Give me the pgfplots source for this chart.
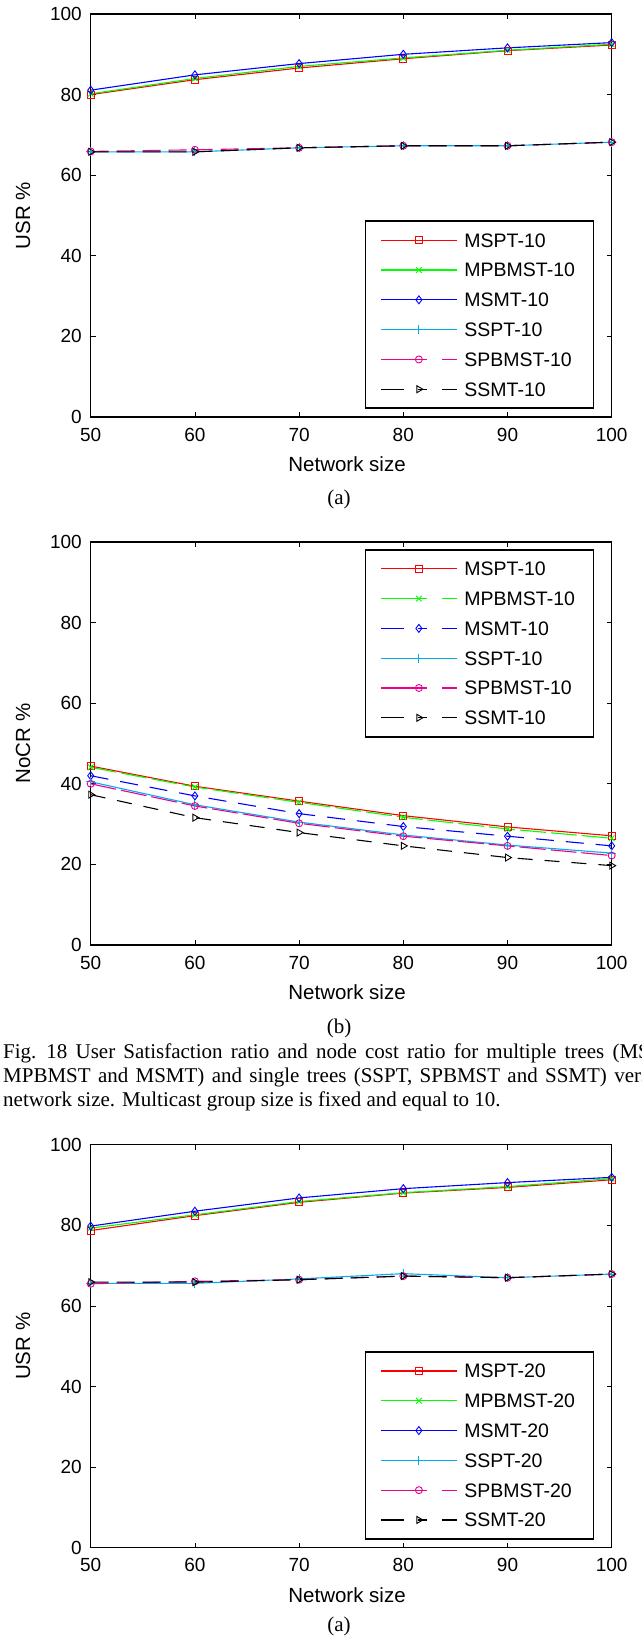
\documentclass[border=0pt]{standalone}
\usepackage{fontspec}
\setmainfont{Liberation Sans}
\newfontfamily\capfont{Liberation Serif}
\usepackage{pgfplots}
\usepackage{pgfplotstable}
\pgfplotsset{compat=1.18}

\newcommand\tickfont{\fontsize{19bp}{19bp}\selectfont}
\newcommand\labfont{\fontsize{20.5bp}{20.5bp}\selectfont}
\newcommand\legfont{\fontsize{19.5bp}{19.5bp}\selectfont}
\newcommand\LE[1]{\makebox[114bp][l]{\rule{0pt}{13.8bp}#1}}

\pgfplotstableread{
x   mspt mpbmst msmt sspt spbmst ssmt
50  80.0 80.2   81.1 65.8 65.9   65.8
60  83.7 84.0   84.9 65.8 66.3   65.8
70  86.6 87.0   87.7 66.8 66.8   66.8
80  88.9 89.1   90.0 67.3 67.3   67.3
90  90.9 91.0   91.6 67.3 67.3   67.3
100 92.3 92.5   92.9 68.2 68.2   68.2
}\usrA

\pgfplotstableread{
x   mspt mpbmst msmt sspt spbmst ssmt
50  44.4 44.1   42.0 40.5 40.0   37.3
60  39.4 39.2   37.0 34.8 34.5   31.6
70  35.7 35.4   32.6 30.5 30.2   27.9
80  32.1 31.7   29.4 27.3 27.0   24.6
90  29.3 28.8   27.0 24.8 24.6   21.7
100 27.1 26.5   24.6 22.8 22.2   19.7
}\nocr

\pgfplotstableread{
x   mspt mpbmst msmt sspt spbmst ssmt
50  78.7 79.3   79.8 65.6 65.5   65.9
60  82.4 82.6   83.5 65.6 66.1   65.9
70  85.7 85.9   86.8 66.7 66.5   66.5
80  88.0 88.1   89.1 68.0 67.4   67.4
90  89.4 89.6   90.6 67.0 67.0   67.0
100 91.3 91.6   91.9 67.9 67.9   67.9
}\usrB

\pgfplotsset{
  leglong/.style={legend image code/.code={
    \draw[mark repeat=2,mark phase=2,##1] plot coordinates {(0bp,0bp)(38bp,0bp)(76bp,0bp)};}},
  legA/.style={legend image code/.code={
    \draw[mark repeat=2,mark phase=2,##1,dash pattern=on 46bp off 15bp on 15bp] plot coordinates {(0bp,0bp)(38bp,0bp)(76bp,0bp)};}},
  legB/.style={legend image code/.code={
    \draw[mark repeat=2,mark phase=2,##1,dash pattern=on 23bp off 14bp on 9bp off 15bp on 15bp] plot coordinates {(0bp,0bp)(38bp,0bp)(76bp,0bp)};}},
  matstyle/.style={
    scale only axis, width=521bp, height=403bp,
    xmin=50, xmax=100, ymin=0, ymax=100,
    xtick={50,60,70,80,90,100}, ytick={0,20,40,60,80,100},
    tick align=inside, major tick length=5bp,
    every tick/.style={black, line width=0.8bp},
    axis line style={black, line width=1.1bp},
    /pgf/number format/assume math mode=true,
    ticklabel style={font=\tickfont},
    xticklabel style={anchor=center, inner sep=0pt, yshift=-17.7bp},
    yticklabel style={anchor=east, inner sep=0pt, xshift=-8.7bp},
    every axis x label/.style={at={(axis description cs:0.492,-0.118)}, anchor=center, inner sep=0pt},
    xlabel={\labfont Network size},
    clip=false,
    legend cell align=left,
    legend style={draw=black, line width=1.5bp, fill=white, font=\legfont,
      inner xsep=15bp, inner ysep=12.1bp, row sep=16bp, column sep=7bp,
      nodes={inner sep=0pt, text depth=0pt}},
  },
  pMSPT/.style={red, line width=1.1bp, mark=square, mark size=3.5bp, mark options={solid, line width=0.9bp}},
  pMPB/.style={green, line width=1.1bp, mark=x, mark size=4bp, mark options={solid, line width=0.9bp}},
  pMSMT/.style={blue, line width=1.1bp, mark=diamond, mark size=4bp, mark options={solid, line width=0.9bp}},
  pSSPT/.style={cyan, line width=1.1bp, mark=+, mark size=4.5bp, mark options={solid, line width=0.9bp}},
  pSPB/.style={magenta, line width=1.1bp, mark=o, mark size=3.5bp, mark options={solid, line width=0.9bp}},
  pSSMT/.style={black, line width=1.1bp, mark=triangle, mark size=4bp, mark options={solid, line width=0.9bp, rotate=-90}},
}

\begin{document}
\begin{tikzpicture}
\path[use as bounding box] (0,0) rectangle (642bp,-1637bp);

% ---------- (a) group 10
\begin{axis}[matstyle, at={(90.7bp,-14bp)}, anchor=north west,
  legend style={at={(0.9664,0.0199)}, anchor=south east}]
\addplot[pMSPT, leglong] table[x=x,y=mspt]{\usrA};
\addlegendentry{\LE{MSPT-10}}
\addplot[pMPB, leglong] table[x=x,y=mpbmst]{\usrA};
\addlegendentry{\LE{MPBMST-10}}
\addplot[pMSMT, leglong] table[x=x,y=msmt]{\usrA};
\addlegendentry{\LE{MSMT-10}}
\addplot[pSSPT, leglong] table[x=x,y=sspt]{\usrA};
\addlegendentry{\LE{SSPT-10}}
\addplot[pSPB, dash pattern=on 18bp off 8bp, legA] table[x=x,y=spbmst]{\usrA};
\addlegendentry{\LE{SPBMST-10}}
\addplot[pSSMT, dash pattern=on 18bp off 8bp, legB] table[x=x,y=ssmt]{\usrA};
\addlegendentry{\LE{SSMT-10}}
\end{axis}

% ---------- (b) group 10
\begin{axis}[matstyle, at={(90.7bp,-542bp)}, anchor=north west,
  legend style={at={(0.9664,0.9826)}, anchor=north east}]
\addplot[pMSPT, leglong] table[x=x,y=mspt]{\nocr};
\addlegendentry{\LE{MSPT-10}}
\addplot[pMPB, dash pattern=on 26bp off 5bp, legA] table[x=x,y=mpbmst]{\nocr};
\addlegendentry{\LE{MPBMST-10}}
\addplot[pMSMT, dash pattern=on 18bp off 12bp, legB] table[x=x,y=msmt]{\nocr};
\addlegendentry{\LE{MSMT-10}}
\addplot[pSSPT, leglong] table[x=x,y=sspt]{\nocr};
\addlegendentry{\LE{SSPT-10}}
\addplot[pSPB, dash pattern=on 26bp off 5bp, legA] table[x=x,y=spbmst]{\nocr};
\addlegendentry{\LE{SPBMST-10}}
\addplot[pSSMT, dash pattern=on 15bp off 12bp, legB] table[x=x,y=ssmt]{\nocr};
\addlegendentry{\LE{SSMT-10}}
\end{axis}

% ---------- (a) group 20
\begin{axis}[matstyle, at={(90.7bp,-1144.7bp)}, anchor=north west,
  legend style={at={(0.9664,0.0199)}, anchor=south east}]
\addplot[pMSPT, leglong] table[x=x,y=mspt]{\usrB};
\addlegendentry{\LE{MSPT-20}}
\addplot[pMPB, leglong] table[x=x,y=mpbmst]{\usrB};
\addlegendentry{\LE{MPBMST-20}}
\addplot[pMSMT, leglong] table[x=x,y=msmt]{\usrB};
\addlegendentry{\LE{MSMT-20}}
\addplot[pSSPT, leglong] table[x=x,y=sspt]{\usrB};
\addlegendentry{\LE{SSPT-20}}
\addplot[pSPB, dash pattern=on 18bp off 8bp, legA] table[x=x,y=spbmst]{\usrB};
\addlegendentry{\LE{SPBMST-20}}
\addplot[pSSMT, dash pattern=on 18bp off 8bp, legB] table[x=x,y=ssmt]{\usrB};
\addlegendentry{\LE{SSMT-20}}
\end{axis}

% ---------- y axis labels
\node[rotate=90, inner sep=0pt, anchor=center, font=\labfont] at (23bp,-215.5bp) {USR \%};
\node[rotate=90, inner sep=0pt, anchor=center, font=\labfont] at (23bp,-743.5bp) {NoCR \%};
\node[rotate=90, inner sep=0pt, anchor=center, font=\labfont] at (23bp,-1346.2bp) {USR \%};

% ---------- sub-captions and figure caption
\begin{scope}[every node/.style={inner sep=0pt, font=\capfont\fontsize{21bp}{24bp}\selectfont}]
\node[anchor=center] at (339bp,-499bp) {(a)};
\node[anchor=center] at (339bp,-1028bp) {(b)};
\node[anchor=center] at (339bp,-1626bp) {(a)};
\node[anchor=base west] at (3bp,-1058bp) {\spaceskip=8.2bp Fig. 18 User Satisfaction ratio and node cost ratio for multiple trees (MSPT,};
\node[anchor=base west] at (3bp,-1082bp) {\spaceskip=7.3bp MPBMST and MSMT) and single trees (SSPT, SPBMST and SSMT) versus};
\node[anchor=base west] at (3bp,-1106bp) {network size. Multicast group size is fixed and equal to 10.};
\end{scope}
\end{tikzpicture}
\end{document}
